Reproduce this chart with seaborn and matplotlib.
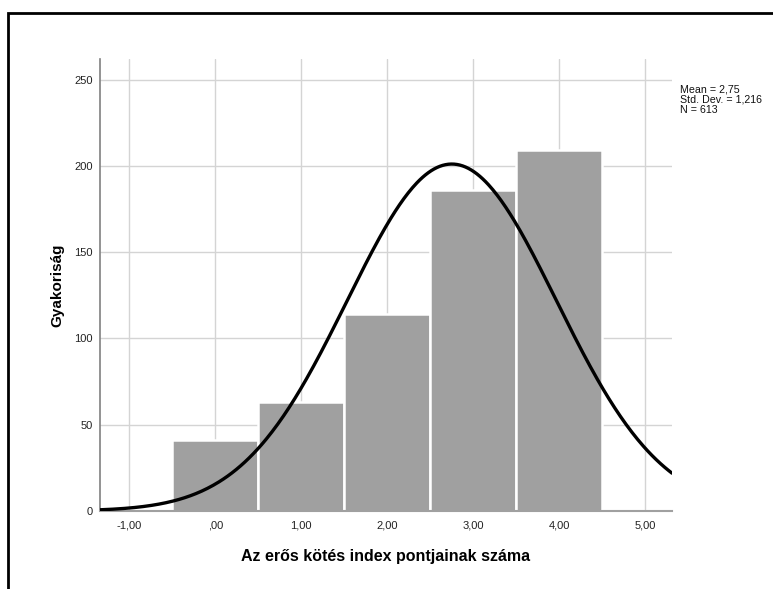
import numpy as np
import pandas as pd
import matplotlib
matplotlib.use("Agg")
import matplotlib.pyplot as plt
import seaborn as sns
from matplotlib.patches import Rectangle

# ---- data ----
categories = [0, 1, 2, 3, 4]
counts = [41, 63, 114, 186, 209]
x_ticks = [-1, 0, 1, 2, 3, 4, 5]
x_tick_labels = ["-1,00", ",00", "1,00", "2,00", "3,00", "4,00", "5,00"]
y_ticks = [0, 50, 100, 150, 200, 250]
y_tick_labels = ["0", "50", "100", "150", "200", "250"]
mean_val = 2.75
sd_val = 1.216
n_val = 613
stats_text = "Mean = 2,75\nStd. Dev. = 1,216\nN = 613"
x_label = "Az erős kötés index pontjainak száma"
y_label = "Gyakoriság"

sns.set_theme(style="white")
plt.rcParams["font.family"] = ["Liberation Sans", "DejaVu Sans"]

fig = plt.figure(figsize=(7.73, 5.89), dpi=100)
ax = fig.add_axes([100 / 773, 1 - 511 / 589, (672 - 100) / 773, (511 - 59) / 589])

df = pd.DataFrame({"value": categories, "count": counts})
sns.histplot(data=df, x="value", weights="count", discrete=True, ax=ax,
             color="#a0a0a0", alpha=1.0, edgecolor="white", linewidth=1.8,
             zorder=2)

# fitted normal curve from displayed statistics
xs = np.linspace(-1.34, 5.31, 400)
ys = n_val * 1.0 / (sd_val * np.sqrt(2 * np.pi)) * np.exp(-0.5 * ((xs - mean_val) / sd_val) ** 2)
sns.lineplot(x=xs, y=ys, ax=ax, color="black", linewidth=2.4, zorder=3)

ax.set_xlim(-1.34, 5.31)
ax.set_ylim(0, 262)
ax.set_xticks(x_ticks)
ax.set_xticklabels(x_tick_labels, fontsize=8, color="#222222")
ax.set_yticks(y_ticks)
ax.set_yticklabels(y_tick_labels, fontsize=8, color="#222222")
ax.tick_params(axis="x", length=0, pad=7)
ax.tick_params(axis="y", length=0, pad=5)
ax.grid(True, color="#d4d4d4", linewidth=1.0, zorder=0)
ax.set_axisbelow(True)

for s in ["top", "right"]:
    ax.spines[s].set_visible(False)
ax.spines["left"].set_color("#808080")
ax.spines["left"].set_linewidth(1.2)
ax.spines["bottom"].set_color("#a0a0a0")
ax.spines["bottom"].set_linewidth(1.5)

ax.set_xlabel(x_label, fontsize=11.5, fontweight="bold", labelpad=13, color="black")
ax.set_ylabel(y_label, fontsize=11, fontweight="bold", labelpad=7, color="black")

fig.text(680 / 773, 1 - 84 / 589, stats_text, fontsize=7.7, va="top", ha="left",
         linespacing=1.05, color="#111111")

# outer frame
fig.patches.append(Rectangle((8 / 773, -0.1), 1.2, 1 - 13 / 589 + 0.1,
                             transform=fig.transFigure, fill=False,
                             edgecolor="black", linewidth=2, clip_on=False))

fig.savefig("out.png", dpi=100)
